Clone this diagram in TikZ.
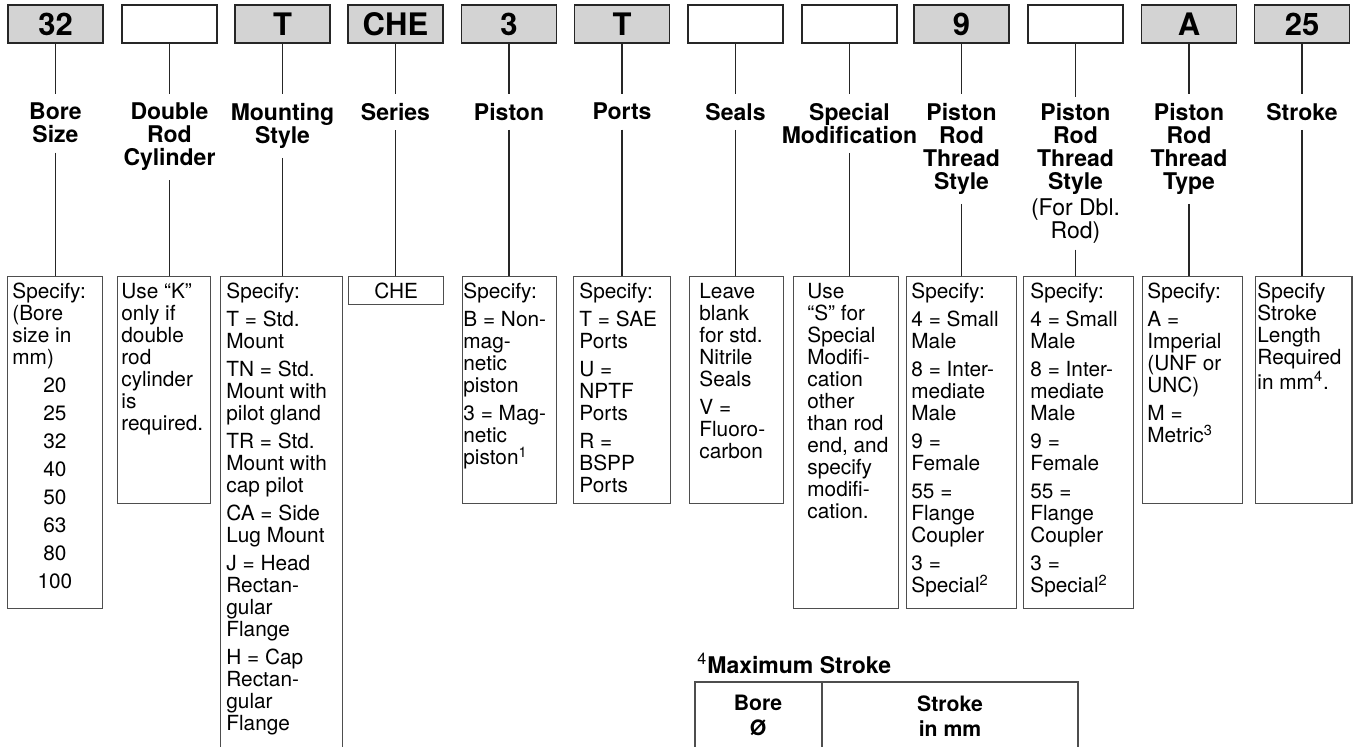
\documentclass[tikz,border=0pt]{standalone}
\usepackage{fontspec}
\setmainfont{TeX Gyre Heros}
\usetikzlibrary{positioning}

\definecolor{codegray}{RGB}{211,211,211}
\definecolor{edgegray}{RGB}{78,78,78}

\begin{document}
\begin{tikzpicture}[
        x=0.5pt, y=-0.5pt,
        code/.style={
            draw=black!85,
            line width=0.8pt,
            fill=codegray,
            minimum width=47.5pt,
            minimum height=19pt,
            inner sep=0pt,
            font=\bfseries\fontsize{15.5}{15.5}\selectfont
        },
        blank/.style={code, fill=white},
        field/.style={
            align=center,
            inner xsep=0pt,
            inner ysep=4.5pt,
            font=\bfseries\fontsize{11.5}{11.5}\selectfont
        },
        descbox/.style={
            draw=edgegray,
            line width=0.6pt,
            anchor=north west,
            inner sep=0pt,
            font=\fontsize{10.4}{11}\selectfont
        },
        desctext/.style={
            anchor=north west,
            align=left,
            inner xsep=0pt,
            inner ysep=3.5pt,
            font=\fontsize{10.4}{11}\selectfont
        },
        link/.style={line width=0.75pt, black!85},
        tablehead/.style={
            align=center,
            anchor=north,
            inner sep=0pt,
            font=\bfseries\fontsize{10.6}{12.5}\selectfont
        }
    ]

    \useasboundingbox (0,0) rectangle (1353,746);
    \clip (0,0) rectangle (1353,746);

    % Code boxes
    \node[code]  (c1)  at (55.5,24)   {32};
    \node[blank] (c2)  at (169.5,24)  {};
    \node[code]  (c3)  at (282.5,24)  {T};
    \node[code]  (c4)  at (395.5,24)  {CHE};
    \node[code]  (c5)  at (509,24)    {3};
    \node[code]  (c6)  at (622,24)    {T};
    \node[blank] (c7)  at (735.5,24)  {};
    \node[blank] (c8)  at (849.5,24)  {};
    \node[code]  (c9)  at (961.5,24)  {9};
    \node[blank] (c10) at (1075.5,24) {};
    \node[code]  (c11) at (1189,24)   {A};
    \node[code]  (c12) at (1302,24)   {25};

    % Field names
    \node[field, below=25pt of c1]  (l1)  {Bore\\Size};
    \node[field, below=25pt of c2]  (l2)  {Double\\Rod\\Cylinder};
    \node[field, below=25pt of c3]  (l3)  {Mounting\\Style};
    \node[field, below=25pt of c4]  (l4)  {Series};
    \node[field, below=25pt of c5]  (l5)  {Piston};
    \node[field, below=25pt of c6]  (l6)  {Ports};
    \node[field, below=25pt of c7]  (l7)  {Seals};
    \node[field, below=25pt of c8]  (l8)  {Special\\Modification};
    \node[field, below=25pt of c9]  (l9)  {Piston\\Rod\\Thread\\Style};
    \node[field, below=26.5pt of c10, inner ysep=3pt] (l10)
        {Piston\\Rod\\Thread\\Style\\[1.5pt]\mdseries (For Dbl.\\\mdseries Rod)};
    \node[field, below=25pt of c11] (l11) {Piston\\Rod\\Thread\\Type};
    \node[field, below=25pt of c12] (l12) {Stroke};

    % Description boxes
    \node[descbox, minimum width=47.5pt, minimum height=166pt]   (d1)  at (7,276)    {};
    \node[descbox, minimum width=46.5pt, minimum height=113.5pt] (d2)  at (117,276)  {};
    \node[descbox, minimum width=61pt,   minimum height=262pt]   (d3)  at (220,276)  {};
    \node[descbox, minimum width=47.5pt, minimum height=14pt]    (d4)  at (348,276)  {CHE};
    \node[descbox, minimum width=47pt,   minimum height=113.5pt] (d5)  at (462,276)  {};
    \node[descbox, minimum width=48.5pt, minimum height=113.5pt] (d6)  at (573,276)  {};
    \node[descbox, minimum width=47pt,   minimum height=113.5pt] (d7)  at (689,276)  {};
    \node[descbox, minimum width=52.5pt, minimum height=166pt]   (d8)  at (793,276)  {};
    \node[descbox, minimum width=55pt,   minimum height=166pt]   (d9)  at (906,276)  {};
    \node[descbox, minimum width=55pt,   minimum height=166pt]   (d10) at (1023,276) {};
    \node[descbox, minimum width=50pt,   minimum height=113.5pt] (d11) at (1142,276) {};
    \node[descbox, minimum width=48.2pt, minimum height=113.5pt] (d12) at (1255,276) {};

    % Description texts
    \node[desctext] (t1) at (12,276)
        {Specify:\\(Bore\\size in\\mm)\\[3pt]\makebox[42.5pt]{20}\\[3pt]\makebox[42.5pt]{25}\\[3pt]%
         \makebox[42.5pt]{32}\\[3pt]\makebox[42.5pt]{40}\\[3pt]\makebox[42.5pt]{50}\\[3pt]%
         \makebox[42.5pt]{63}\\[3pt]\makebox[42.5pt]{80}\\[3pt]\makebox[42.5pt]{100}};
    \node[desctext] (t2) at (121,276)
        {Use “K”\\only if\\double\\rod\\cylinder\\is\\required.};
    \node[desctext] (t3) at (226,276)
        {Specify:\\[3pt]T = Std.\\Mount\\[3pt]TN = Std.\\Mount with\\pilot gland\\[3pt]%
         TR = Std.\\Mount with\\cap pilot\\[3pt]CA = Side\\Lug Mount\\[3pt]%
         J = Head\\Rectan-\\gular\\Flange\\[3pt]H = Cap\\Rectan-\\gular\\Flange};
    \node[desctext] (t5) at (463,276)
        {Specify:\\[3pt]B = Non-\\mag-\\netic\\piston\\[3pt]3 = Mag-\\netic\\piston\textsuperscript{1}};
    \node[desctext] (t6) at (579,276)
        {Specify:\\[3pt]T = SAE\\Ports\\[3pt]U =\\NPTF\\Ports\\[3pt]R =\\BSPP\\Ports};
    \node[desctext] (t7) at (699,276)
        {Leave\\blank\\for std.\\Nitrile\\Seals\\[3pt]V =\\Fluoro-\\carbon};
    \node[desctext] (t8) at (807,276)
        {Use\\“S” for\\Special\\Modifi-\\cation\\other\\than rod\\end, and\\specify\\modifi-\\cation.};
    \node[desctext] (t9) at (911,276)
        {Specify:\\[3pt]4 = Small\\Male\\[3pt]8 = Inter-\\mediate\\Male\\[3pt]9 =\\Female\\[3pt]%
         55 =\\Flange\\Coupler\\[3pt]3 =\\Special\textsuperscript{2}};
    \node[desctext] (t10) at (1030,276)
        {Specify:\\[3pt]4 = Small\\Male\\[3pt]8 = Inter-\\mediate\\Male\\[3pt]9 =\\Female\\[3pt]%
         55 =\\Flange\\Coupler\\[3pt]3 =\\Special\textsuperscript{2}};
    \node[desctext] (t11) at (1147,276)
        {Specify:\\[3pt]A =\\Imperial\\(UNF or\\UNC)\\[3pt]M =\\Metric\textsuperscript{3}};
    \node[desctext] (t12) at (1257,276)
        {Specify\\Stroke\\Length\\Required\\in mm\textsuperscript{4}.};

    % Connectors
    \draw[link] (c1)  -- (l1);  \draw[link] (l1)  -- (l1  |- d1.north);
    \draw[link] (c2)  -- (l2);  \draw[link] (l2)  -- (l2  |- d2.north);
    \draw[link] (c3)  -- (l3);  \draw[link] (l3)  -- (l3  |- d3.north);
    \draw[link] (c4)  -- (l4);  \draw[link] (l4)  -- (l4  |- d4.north);
    \draw[link] (c5)  -- (l5);  \draw[link] (l5)  -- (l5  |- d5.north);
    \draw[link] (c6)  -- (l6);  \draw[link] (l6)  -- (l6  |- d6.north);
    \draw[link] (c7)  -- (l7);  \draw[link] (l7)  -- (l7  |- d7.north);
    \draw[link] (c8)  -- (l8);  \draw[link] (l8)  -- (l8  |- d8.north);
    \draw[link] (c9)  -- (l9);  \draw[link] (l9)  -- (l9  |- d9.north);
    \draw[link] (c10) -- (l10); \draw[link] (l10) -- (l10 |- d10.north);
    \draw[link] (c11) -- (l11); \draw[link] (l11) -- (l11 |- d11.north);
    \draw[link] (c12) -- (l12); \draw[link] (l12) -- (l12 |- d12.north);

    % Maximum stroke table
    \node[anchor=base west, inner sep=0pt, font=\bfseries\fontsize{11.5}{11.5}\selectfont] (maxstroke)
        at (697,673) {\textsuperscript{\mdseries 4}Maximum Stroke};
    \draw[edgegray, line width=0.6pt] (695,800) |- (1078,682) -- (1078,800);
    \draw[edgegray, line width=0.6pt] (822,682) -- (822,800);
    \node[tablehead] (bore)   at (758,695) {Bore\\Ø};
    \node[tablehead] (stroke) at (950,695) {Stroke\\in mm};

\end{tikzpicture}
\end{document}
